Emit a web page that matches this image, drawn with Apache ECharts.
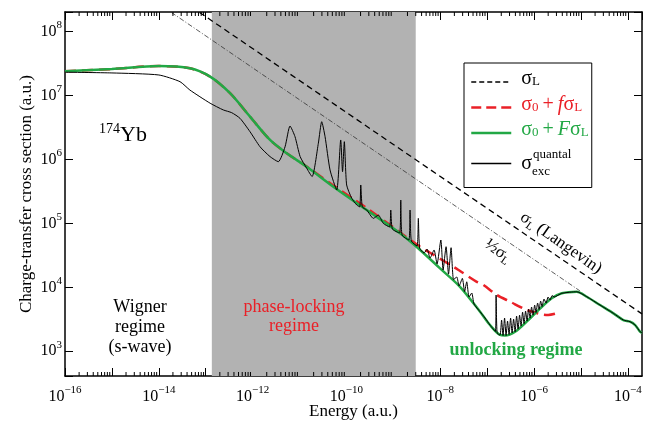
<!DOCTYPE html>
<html>
<head>
<meta charset="utf-8">
<script src="https://cdn.jsdelivr.net/npm/echarts@6/dist/echarts.min.js"></script>
<style>
html, body { margin: 0; padding: 0; background: #fff; }
#main { width: 648px; height: 426px; }
</style>
</head>
<body>
<div id="main"></div>
<script>
var FONT = 'Liberation Serif';
var GREEN = '#22a845';
var RED = '#ea2027';

// [energy (a.u.), cross section (a.u.)]
var langevin = [[7.4e-14, 2.0e8], [2e-4, 3.84e3]];
var halfLangevin = [[1.85e-14, 2.0e8], [9.5e-6, 8.8e3]];

var lockedModel = [
  [1e-16, 2.4e7], [1e-15, 2.6e7], [1e-14, 2.9e7], [4.6e-14, 2.67e7], [1.24e-13, 1.98e7],
  [3.3e-13, 1.09e7], [8.8e-13, 4.68e6], [2.35e-12, 2.02e6], [5.33e-12, 1.25e6], [1.42e-11, 7.75e5],
  [5.26e-11, 3.92e5], [2.71e-10, 1.74e5], [1.18e-9, 7.9e4], [3.72e-9, 4.3e4], [6.07e-9, 3.48e4],
  [1.9e-8, 2.1e4], [2.64e-8, 1.8e4], [6.0e-8, 1.22e4], [8.3e-8, 1.09e4], [1.6e-7, 7.6e3],
  [3.08e-7, 5.96e3], [6.98e-7, 4.42e3], [1.46e-6, 3.78e3], [2.0e-6, 3.69e3], [3.05e-6, 3.92e3]
];

var unlockedModel = [
  [1e-16, 2.4e7], [1e-15, 2.6e7], [1e-14, 2.9e7], [4.6e-14, 2.67e7], [1.24e-13, 1.98e7],
  [3.3e-13, 1.09e7], [8.8e-13, 4.68e6], [2.35e-12, 2.02e6], [5.33e-12, 1.25e6], [1.42e-11, 7.7e5],
  [5.26e-11, 3.75e5], [2.71e-10, 1.62e5], [1.39e-9, 7.0e4], [3.72e-9, 3.84e4], [9.9e-9, 1.98e4],
  [2.64e-8, 1.02e4], [7.06e-8, 4.15e3], [1.15e-7, 2.57e3], [1.88e-7, 1.8e3], [2.41e-7, 1.76e3],
  [3.94e-7, 2.02e3], [7.55e-7, 3.08e3], [1.24e-6, 4.41e3], [2.38e-6, 6.73e3], [3.89e-6, 8.06e3],
  [8.1e-6, 8.53e3], [1.33e-5, 7.13e3], [2.55e-5, 5.28e3], [4.91e-5, 3.92e3], [8.0e-5, 3.08e3],
  [1.11e-4, 2.9e3], [1.43e-4, 2.57e3], [1.82e-4, 2.02e3], [2e-4, 1.95e3]
];

var quantal = [
  [1e-16, 2.32e7], [1e-15, 2.26e7], [1e-14, 2.1e7], [2.83e-14, 1.65e7], [4.6e-14, 1.22e7],
  [1.24e-13, 7.6e6], [2.37e-13, 5.96e6], [3.58e-13, 5.4e6], [5.38e-13, 4.41e6], [8.8e-13, 2.72e6],
  [1.44e-12, 1.58e6], [2.35e-12, 1.11e6], [3.53e-12, 9.25e5], [4.91e-12, 1.58e6], [6.27e-12, 3.34e6],
  [8.0e-12, 2.28e6], [1.03e-11, 1.11e6], [1.42e-11, 7.3e5], [1.85e-11, 5.4e5], [2.52e-11, 1.8e6],
  [2.97e-11, 3.9e6], [3.5e-11, 2.28e6], [4.47e-11, 6.85e5], [6.21e-11, 3.33e5], [7.55e-11, 2.02e6],
  [8.26e-11, 6.44e5], [9.02e-11, 1.9e6], [1.01e-10, 3.99e5], [1.30e-10, 2.47e5], [1.66e-10, 1.94e5],
  [1.92e-10, 1.81e5], [2.02e-10, 3.99e5], [2.18e-10, 1.81e5], [2.71e-10, 1.62e5], [3.75e-10, 1.2e5],
  [4.79e-10, 1.35e5], [6.12e-10, 1.0e5], [8.30e-10, 8.79e4], [8.81e-10, 1.62e5], [9.53e-10, 8.17e4],
  [1.36e-9, 7.08e4], [1.44e-9, 2.32e5], [1.53e-9, 6.58e4], [2.14e-9, 5.5e4], [2.27e-9, 1.62e5],
  [2.42e-9, 5.31e4], [3.20e-9, 4.43e4], [3.41e-9, 1.2e5], [3.64e-9, 4.12e4], [4.52e-9, 3.44e4],
  [5.24e-9, 3.97e4], [6.07e-9, 2.88e4], [7.38e-9, 3.84e4], [8.55e-9, 2.32e4], [1.03e-8, 5.5e4],
  [1.15e-8, 1.87e4], [1.33e-8, 4.32e4], [1.50e-8, 1.61e4], [1.70e-8, 4.17e4], [1.92e-8, 1.32e4],
  [2.25e-8, 1.45e4], [2.52e-8, 1.05e4], [2.96e-8, 1.38e4], [3.30e-8, 8.6e3], [3.67e-8, 1.22e4],
  [4.11e-8, 7.05e3], [4.70e-8, 8.15e3], [5.26e-8, 5.47e3], [7.06e-8, 4.15e3], [9.02e-8, 3.31e3],
  [1.15e-7, 2.57e3], [1.50e-7, 2.03e3], [1.55e-7, 7.57e3], [1.63e-7, 1.93e3], [1.88e-7, 1.79e3],
  [2.03e-7, 3.08e3], [2.18e-7, 1.76e3], [2.35e-7, 3.31e3], [2.53e-7, 1.76e3], [2.72e-7, 2.97e3],
  [2.93e-7, 1.83e3], [3.16e-7, 3.31e3], [3.40e-7, 1.93e3], [3.66e-7, 3.19e3], [3.94e-7, 2.02e3],
  [4.24e-7, 3.56e3], [4.56e-7, 2.22e3], [4.91e-7, 3.68e3], [5.28e-7, 2.48e3], [5.69e-7, 4.1e3],
  [6.12e-7, 2.71e3], [6.59e-7, 4.26e3], [7.10e-7, 2.97e3], [7.64e-7, 4.57e3], [8.22e-7, 3.31e3],
  [8.85e-7, 4.92e3], [9.53e-7, 3.68e3], [1.03e-6, 5.28e3], [1.10e-6, 4.03e3], [1.19e-6, 5.68e3],
  [1.28e-6, 4.5e3], [1.38e-6, 6.1e3], [1.48e-6, 5.01e3], [1.63e-6, 6.56e3], [1.80e-6, 5.68e3],
  [1.99e-6, 7.05e3], [2.19e-6, 6.32e3], [2.42e-6, 7.43e3], [2.67e-6, 7.05e3], [3.89e-6, 8.06e3],
  [8.1e-6, 8.53e3], [1.33e-5, 7.13e3], [2.55e-5, 5.28e3], [4.91e-5, 3.92e3], [8.0e-5, 3.08e3],
  [1.11e-4, 2.9e3], [1.43e-4, 2.57e3], [1.82e-4, 2.02e3], [2e-4, 1.95e3]
];

var lockingBand = [1.35e-13, 3e-9];

var X_MIN = 1e-16, X_MAX = 2e-4;
var Y_MIN = 410, Y_MAX = 2.03e8;

// minor ticks 2..9 in every decade
function decadeTicks(lo, hi, from, to) {
  var out = [];
  for (var n = from; n <= to; n++) {
    for (var k = 2; k <= 9; k++) {
      var v = k * Math.pow(10, n);
      if (v > lo && v < hi) out.push(v);
    }
  }
  return out;
}
var xMinor = decadeTicks(X_MIN, X_MAX, -16, -4);
var yMinor = decadeTicks(Y_MIN, Y_MAX, 2, 8);

var chart = echarts.init(document.getElementById('main'));

function powLabel(everyOther) {
  return function (v) {
    var e = Math.log10(v);
    var r = Math.round(e);
    if (Math.abs(e - r) > 1e-6) return '';
    if (everyOther && Math.abs(r) % 2 !== 0) return '';
    return '{b|10}{s|' + (r < 0 ? '\u2212' + (-r) : r) + '}';
  };
}

var labelRich = {
  b: { fontFamily: FONT, fontSize: 16, lineHeight: 24, color: '#000' },
  s: { fontFamily: FONT, fontSize: 11, lineHeight: 12, verticalAlign: 'top', color: '#000' }
};

var tickStyle = { show: true, inside: true, length: 8, lineStyle: { color: '#000', width: 1 } };
var lineStyle = { show: true, onZero: false, lineStyle: { color: '#000', width: 1.5 } };

function mkRich(color) {
  return {
    m: { fontFamily: FONT, fontSize: 20, lineHeight: 26, verticalAlign: 'top', color: color },
    i: { fontFamily: FONT, fontSize: 20, lineHeight: 26, verticalAlign: 'top', fontStyle: 'italic', color: color },
    d: { fontFamily: FONT, fontSize: 13, lineHeight: 26, color: color }
  };
}
var legendRich = {
  z: { fontSize: 1, lineHeight: 26, width: 5 },
  zq: { fontSize: 1, lineHeight: 36, width: 5 },
  km: mkRich('#000').m, kd: mkRich('#000').d,
  rm: mkRich(RED).m, ri: mkRich(RED).i, rd: mkRich(RED).d,
  gm: mkRich(GREEN).m, gi: mkRich(GREEN).i, gd: mkRich(GREEN).d,
  qm: { fontFamily: FONT, fontSize: 20, lineHeight: 36, color: '#000' },
  qsub: { fontFamily: FONT, fontSize: 13, lineHeight: 36, verticalAlign: 'bottom', padding: [0, 0, 3, 0], width: 1, color: '#000' },
  qsup: { fontFamily: FONT, fontSize: 13, lineHeight: 36, verticalAlign: 'top', padding: [3, 0, 0, 0], color: '#000' }
};
var legendText = {
  'sigmaL': '{z| }{km|σ}{kd|L}',
  'locked': '{z| }{rm|σ}{rd|0}{rm|\u2009+\u2009}{ri|f}{rm|σ}{rd|L}',
  'unlocked': '{z| }{gm|σ}{gd|0}{gm|\u2009+\u2009}{gi|F}{gm|σ}{gd|L}',
  'quantal': '{zq| }{qm|σ}{qsub|exc}{qsup|quantal}'
};
var noSymbol = { opacity: 0, color: 'transparent', borderWidth: 0 };

function minorTickItem(vertical) {
  return function (params, api) {
    var v = api.value(0);
    var a, b, children;
    if (vertical) {
      a = api.coord([v, Y_MIN]);
      b = api.coord([v, Y_MAX]);
      children = [
        { type: 'line', shape: { x1: a[0], y1: a[1], x2: a[0], y2: a[1] - 4 } },
        { type: 'line', shape: { x1: b[0], y1: b[1], x2: b[0], y2: b[1] + 4 } }
      ];
    } else {
      a = api.coord([X_MIN, v]);
      b = api.coord([X_MAX, v]);
      children = [
        { type: 'line', shape: { x1: a[0], y1: a[1], x2: a[0] + 4, y2: a[1] } },
        { type: 'line', shape: { x1: b[0], y1: b[1], x2: b[0] - 4, y2: b[1] } }
      ];
    }
    children.forEach(function (c) { c.style = { stroke: '#000', lineWidth: 1 }; });
    return { type: 'group', children: children };
  };
}

var option = {
  animation: false,
  backgroundColor: '#fff',
  grid: { left: 65, right: 6, top: 12, bottom: 50, containLabel: false, outerBoundsMode: 'none' },
  xAxis: [
    {
      type: 'log', min: X_MIN, max: X_MAX, interval: 1, position: 'bottom',
      name: 'Energy (a.u.)', nameLocation: 'middle', nameGap: 27, nameMoveOverlap: false,
      nameTextStyle: { fontFamily: FONT, fontSize: 17, color: '#000' },
      axisLine: lineStyle, axisTick: tickStyle, minorTick: { show: false },
      splitLine: { show: false },
      axisLabel: { margin: 9, formatter: powLabel(true), rich: labelRich, showMaxLabel: false }
    },
    {
      type: 'log', min: X_MIN, max: X_MAX, interval: 1, position: 'top',
      axisLine: lineStyle, axisTick: tickStyle, minorTick: { show: false },
      splitLine: { show: false }, axisLabel: { show: false }
    }
  ],
  yAxis: [
    {
      type: 'log', min: Y_MIN, max: Y_MAX, position: 'left',
      name: 'Charge-transfer cross section (a.u.)', nameLocation: 'middle', nameGap: 30, nameMoveOverlap: false,
      nameTextStyle: { fontFamily: FONT, fontSize: 17, color: '#000' },
      axisLine: lineStyle, axisTick: tickStyle, minorTick: { show: false },
      splitLine: { show: false },
      axisLabel: { margin: 3, formatter: powLabel(false), rich: labelRich }
    },
    {
      type: 'log', min: Y_MIN, max: Y_MAX, position: 'right',
      axisLine: lineStyle, axisTick: tickStyle, minorTick: { show: false },
      splitLine: { show: false }, axisLabel: { show: false }
    }
  ],
  legend: {
    orient: 'vertical', left: 464, top: 63,
    padding: [6, 3, 6, 6],
    itemWidth: 40, itemHeight: 25, itemGap: 2.5,
    borderColor: '#000', borderWidth: 1,
    selectedMode: false,
    data: [
      { name: 'sigmaL', itemStyle: noSymbol, lineStyle: { color: '#000', width: 1.3, type: [5, 3] } },
      { name: 'locked', itemStyle: noSymbol, lineStyle: { color: RED, width: 2.5, type: [10, 5] } },
      { name: 'unlocked', itemStyle: noSymbol, lineStyle: { color: GREEN, width: 2.5, type: 'solid' } },
      { name: 'quantal', itemStyle: noSymbol, lineStyle: { color: '#000', width: 1.3, type: 'solid' } }
    ],
    formatter: function (name) { return legendText[name]; },
    textStyle: { fontFamily: FONT, fontSize: 20, rich: legendRich }
  },
  graphic: [
    { type: 'text', z: 100, x: 99, y: 135, style: {
      text: '{a|174}{b|Yb}', verticalAlign: 'middle',
      rich: { a: { fontFamily: FONT, fontSize: 14, lineHeight: 10, verticalAlign: 'top', fill: '#000' },
              b: { fontFamily: FONT, fontSize: 22, lineHeight: 26, fill: '#000' } } } },
    { type: 'text', z: 100, x: 140, y: 327, style: {
      text: 'Wigner\nregime\n(s-wave)', align: 'center', verticalAlign: 'middle',
      fontFamily: FONT, fontSize: 18, lineHeight: 20, fill: '#000' } },
    { type: 'text', z: 100, x: 294, y: 317, style: {
      text: 'phase-locking\nregime', align: 'center', verticalAlign: 'middle',
      fontFamily: FONT, fontSize: 18, lineHeight: 19, fill: RED } },
    { type: 'text', z: 100, x: 516, y: 350, style: {
      text: 'unlocking regime', align: 'center', verticalAlign: 'middle',
      fontFamily: FONT, fontSize: 18, fontWeight: 'bold', fill: GREEN } },
    { type: 'text', z: 100, x: 561, y: 243, rotation: -0.61, style: {
      text: '{m|σ}{s|L}{m| (Langevin)}', align: 'center', verticalAlign: 'middle',
      rich: { m: { fontFamily: FONT, fontSize: 17, lineHeight: 20, fill: '#000' },
              s: { fontFamily: FONT, fontSize: 11, lineHeight: 12, verticalAlign: 'bottom', fill: '#000' } } } },
    { type: 'text', z: 100, x: 498, y: 251, rotation: -0.61, style: {
      text: '{m|½σ}{s|L}', align: 'center', verticalAlign: 'middle',
      rich: { m: { fontFamily: FONT, fontSize: 17, lineHeight: 20, fill: '#000' },
              s: { fontFamily: FONT, fontSize: 11, lineHeight: 12, verticalAlign: 'bottom', fill: '#000' } } } }
  ],
  series: [
    {
      name: 'band', type: 'line', data: [], z: 1, silent: true,
      markArea: { silent: true, itemStyle: { color: '#b2b2b2', opacity: 1 },
        data: [[{ xAxis: lockingBand[0] }, { xAxis: lockingBand[1] }]] }
    },
    {
      name: 'xMinor', type: 'custom', z: 8, silent: true, clip: false,
      data: xMinor.map(function (v) { return [v, Y_MIN]; }),
      renderItem: minorTickItem(true)
    },
    {
      name: 'yMinor', type: 'custom', z: 8, silent: true, clip: false,
      data: yMinor.map(function (v) { return [X_MIN, v]; }),
      renderItem: minorTickItem(false)
    },
    {
      name: 'sigmaL', type: 'line', data: langevin, z: 3, symbol: 'none',
      lineStyle: { color: '#000', width: 1.3, type: [6, 4] }, itemStyle: { color: '#000' }
    },
    {
      name: 'half', type: 'line', data: halfLangevin, z: 3, symbol: 'none',
      lineStyle: { color: '#333', width: 0.8, type: [5, 2, 1, 2] }
    },
    {
      name: 'locked', type: 'line', data: lockedModel, z: 4, symbol: 'none', smooth: 0.3,
      lineStyle: { color: RED, width: 2.5, type: [11, 6] }, itemStyle: { color: RED }
    },
    {
      name: 'unlocked', type: 'line', data: unlockedModel, z: 5, symbol: 'none', smooth: 0.3,
      lineStyle: { color: GREEN, width: 2.5 }, itemStyle: { color: GREEN }
    },
    {
      name: 'quantal', type: 'line', data: quantal, z: 6, symbol: 'none', smooth: 0.2,
      lineStyle: { color: '#000', width: 1 }, itemStyle: { color: '#000' }
    }
  ]
};

chart.setOption(option);
</script>
</body>
</html>
